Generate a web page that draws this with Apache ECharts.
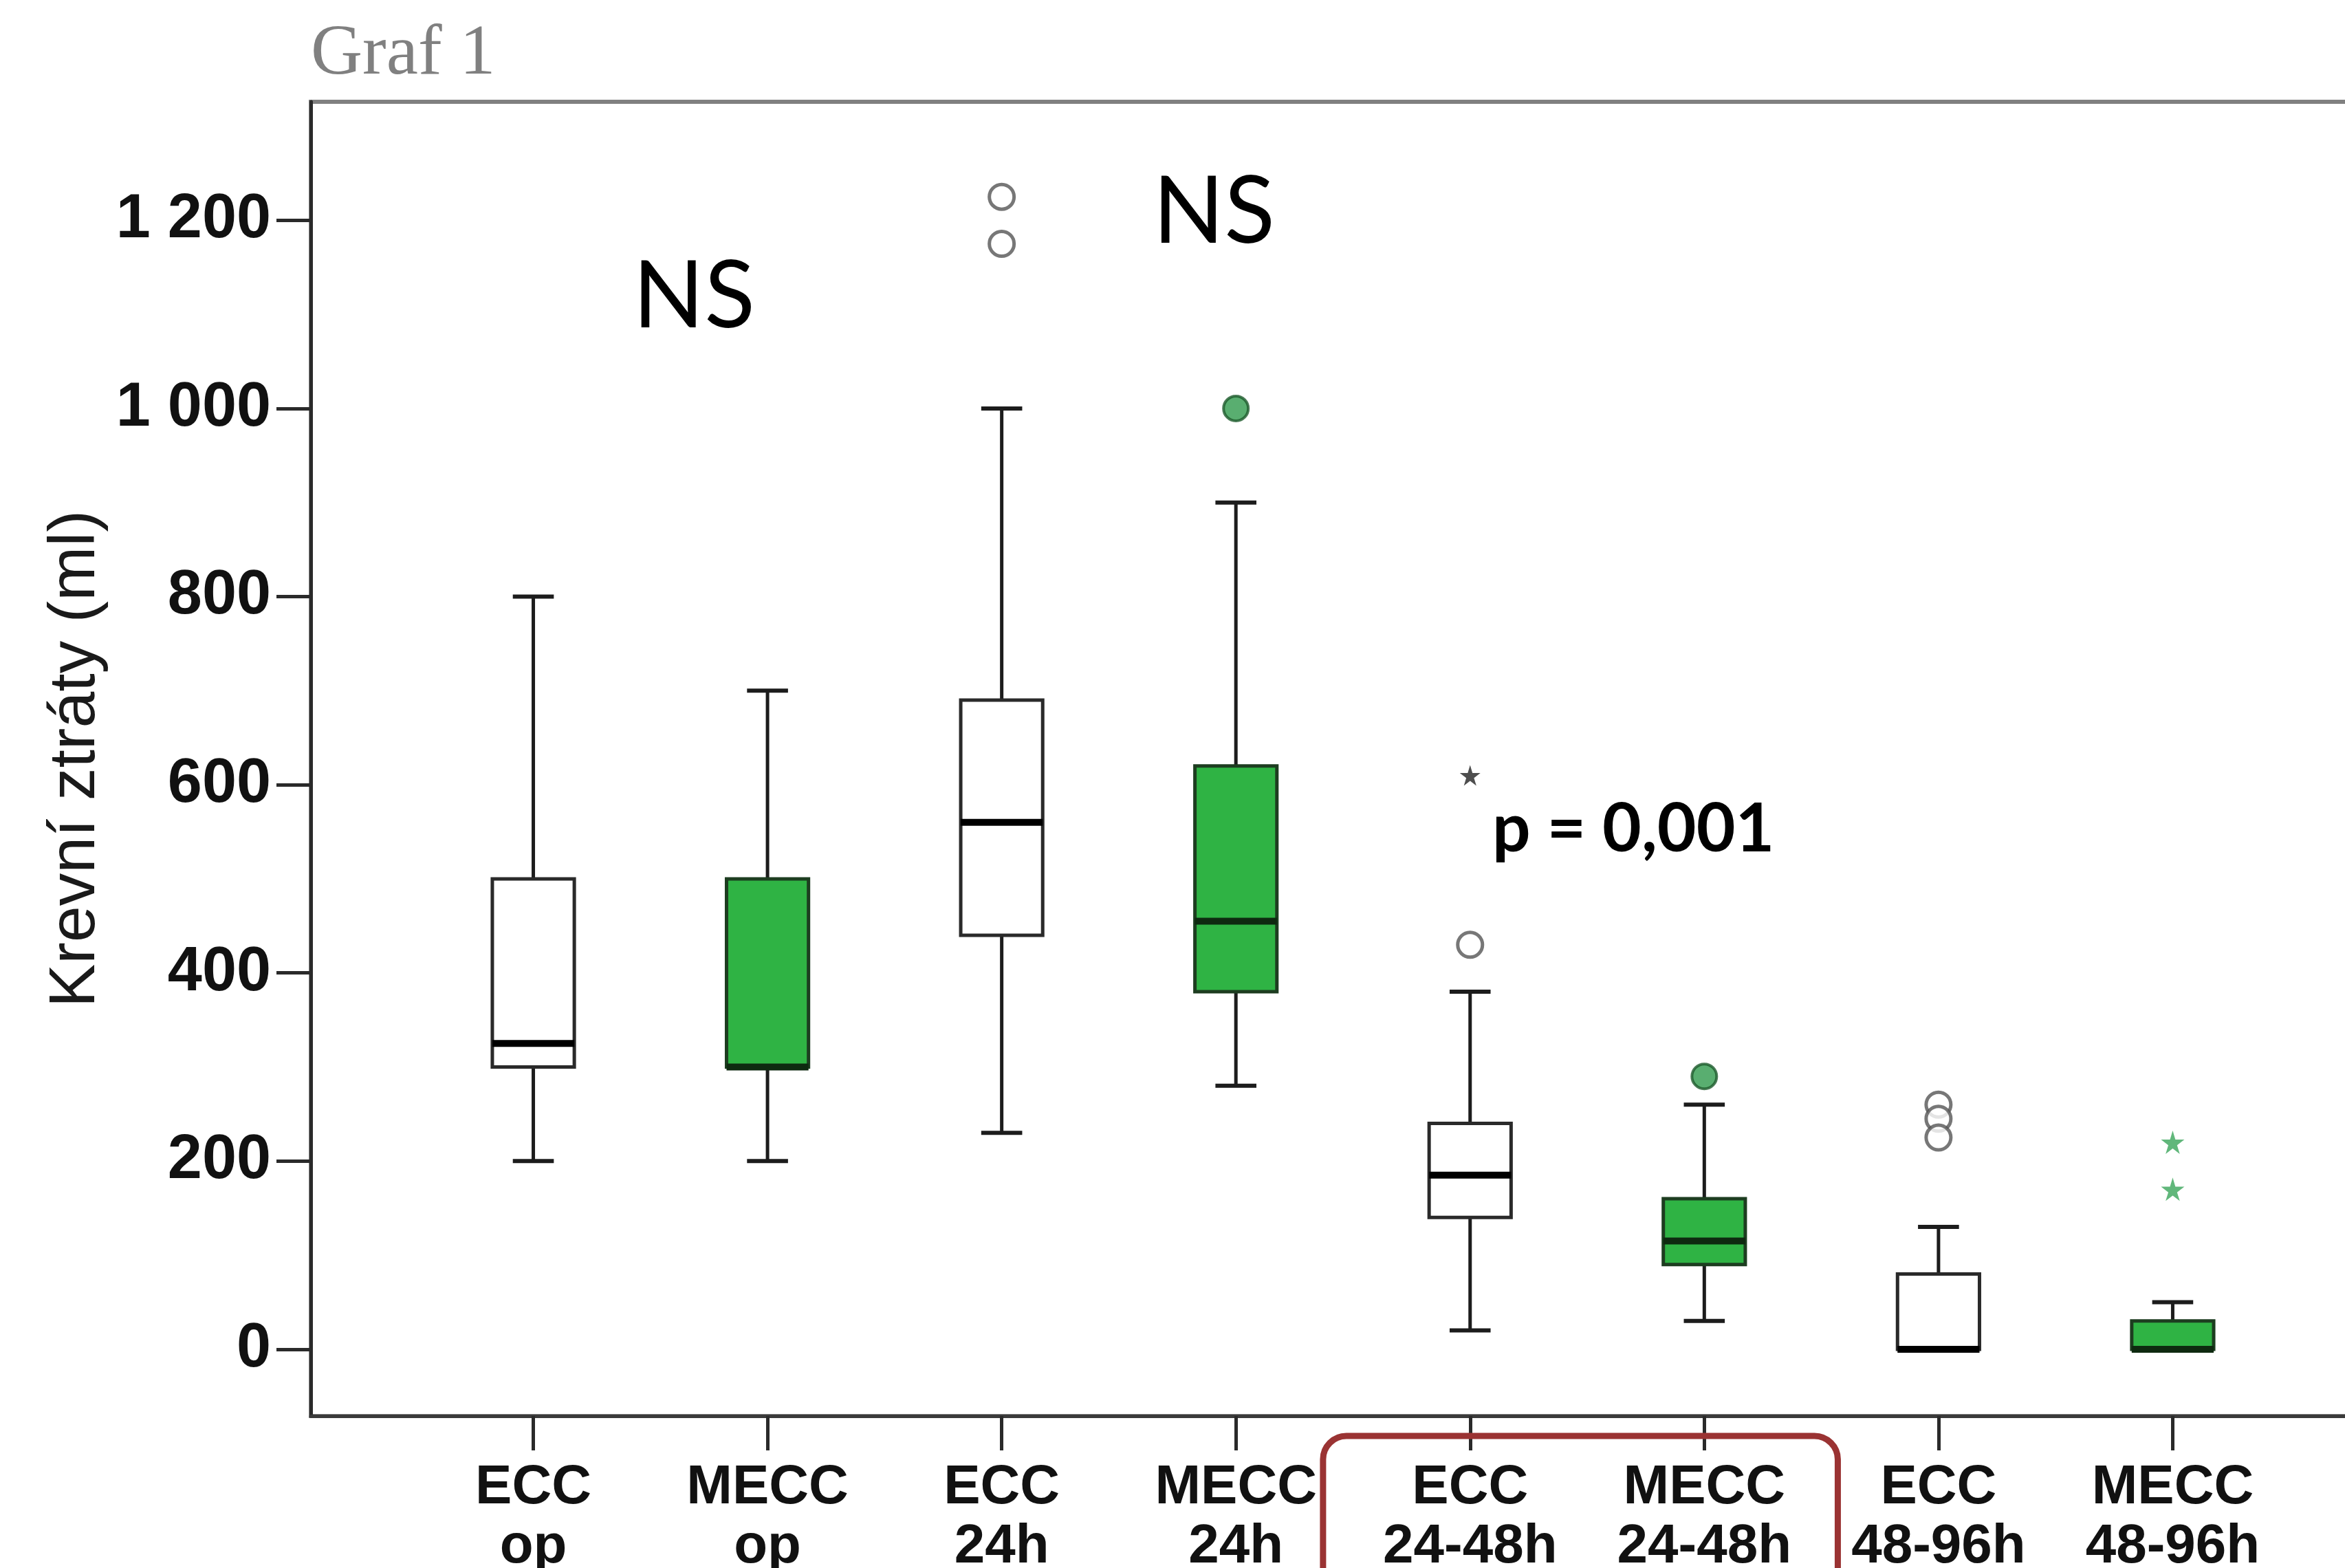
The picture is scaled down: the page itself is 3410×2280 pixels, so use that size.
<!DOCTYPE html>
<html><head><meta charset="utf-8">
<script src="https://cdn.jsdelivr.net/npm/echarts@6/dist/echarts.min.js"></script>
<style>html,body{margin:0;padding:0;background:#fff}#c{width:3410px;height:2280px}</style>
</head><body><div id="c"></div>
<script>
// ---- data ----
const categories = ['ECC\nop','MECC\nop','ECC\n24h','MECC\n24h','ECC\n24-48h','MECC\n24-48h','ECC\n48-96h','MECC\n48-96h'];
const boxMin    = [200, 200, 230, 280, 20, 30, 0, 0];
const boxQ1     = [300, 300, 440, 380, 140, 90, 0, 0];
const boxMedian = [325, 300, 560, 455, 185, 115, 0, 0];
const boxQ3     = [500, 500, 690, 620, 240, 160, 80, 30];
const boxMax    = [800, 700, 1000, 900, 380, 260, 130, 50];
const outlierCirclesECC  = [[3,1225],[3,1175],[5,430],[7,260],[7,245],[7,225]];
const outlierCirclesMECC = [[4,1000],[6,290]];
const extremeStarsECC    = [[5,610]];
const extremeStarsMECC   = [[8,220],[8,170]];
const yTickValues = [0,200,400,600,800,1000,1200];
const xTickValues = [1,2,3,4,5,6,7,8];
const annotations = [['NS',1.686,1118],['NS',3.906,1208],['p = 0,001',5.697,552]];

// ---- styling ----
const BOX_WIDTH = 0.35, CAP_WIDTH = 0.175;
const STAR = 'path://M50,0 L61,35 L98,35 L68,57 L79,91 L50,70 L21,91 L32,57 L2,35 L39,35 Z';
const boxData = categories.map((c,i)=>[i+1, boxMin[i], boxQ1[i], boxMedian[i], boxQ3[i], boxMax[i]]);

function renderBox(params, api){
  const x = api.value(0);
  const pMin = api.coord([x, api.value(1)]);
  const pQ1  = api.coord([x, api.value(2)]);
  const pMd  = api.coord([x, api.value(3)]);
  const pQ3  = api.coord([x, api.value(4)]);
  const pMax = api.coord([x, api.value(5)]);
  const isMECC = categories[params.dataIndex].indexOf('MECC') === 0;
  const halfW = api.size([BOX_WIDTH, 0])[0] / 2;
  const capHalf = api.size([CAP_WIDTH, 0])[0] / 2;
  const cx = pMin[0];
  const stroke = '#1c1c1c';
  return {type:'group', children:[
    {type:'line', shape:{x1:cx,y1:pQ3[1],x2:cx,y2:pMax[1]}, style:{stroke, lineWidth:5}},
    {type:'line', shape:{x1:cx,y1:pQ1[1],x2:cx,y2:pMin[1]}, style:{stroke, lineWidth:5}},
    {type:'line', shape:{x1:cx-capHalf,y1:pMax[1],x2:cx+capHalf,y2:pMax[1]}, style:{stroke, lineWidth:6}},
    {type:'line', shape:{x1:cx-capHalf,y1:pMin[1],x2:cx+capHalf,y2:pMin[1]}, style:{stroke, lineWidth:6}},
    {type:'rect', shape:{x:cx-halfW, y:pQ3[1], width:2*halfW, height:pQ1[1]-pQ3[1]},
      style:{fill: isMECC ? '#2fb344' : '#ffffff', stroke: isMECC ? '#1d3d20' : '#2a2a2a', lineWidth:5}},
    {type:'line', shape:{x1:cx-halfW,y1:pMd[1],x2:cx+halfW,y2:pMd[1]}, style:{stroke: isMECC ? '#0e2a10' : '#000', lineWidth:10}}
  ]};
}

const chart = echarts.init(document.getElementById('c'), null, {renderer:'canvas'});
const option = {
  backgroundColor:'#ffffff',
  animation:false,
  title:{text:'Graf 1', left:452, top:28, padding:0,
    textStyle:{fontFamily:'Liberation Serif', fontSize:104, fontWeight:'normal', color:'#808080'}},
  grid:{left:452, top:148, width:3048, height:1911, containLabel:false, outerBoundsMode:'none',
    show:true, borderColor:'#808080', borderWidth:6, backgroundColor:'transparent'},
  xAxis:{type:'value', min:0.05, max:9.0,
    axisLine:{show:true, onZero:false, lineStyle:{color:'#3a3a3a', width:5}},
    axisTick:{show:true, customValues:xTickValues, length:50, lineStyle:{color:'#2a2a2a', width:5}},
    axisLabel:{show:true, customValues:xTickValues, margin:62, formatter:v=>categories[Math.round(v)-1]||'',
      fontFamily:'Liberation Sans', fontWeight:'bold', fontSize:80, lineHeight:86, color:'#111'},
    splitLine:{show:false}},
  yAxis:{type:'value', min:-71, max:1326,
    name:'Krevní ztráty (ml)', nameLocation:'middle', nameGap:290,
    nameTextStyle:{fontFamily:'Liberation Sans', fontSize:95, color:'#1a1a1a'},
    axisLine:{show:true, lineStyle:{color:'#2a2a2a', width:5}},
    axisTick:{show:true, customValues:yTickValues, length:50, lineStyle:{color:'#2a2a2a', width:5}},
    axisLabel:{show:true, customValues:yTickValues, margin:58,
      formatter:v=>String(v).replace(/\B(?=(\d{3})+(?!\d))/g,' '),
      fontFamily:'Liberation Sans', fontWeight:'bold', fontSize:90, color:'#111'},
    splitLine:{show:false}},
  series:[
    {type:'custom', renderItem:renderBox, data:boxData, encode:{x:0, y:[1,2,3,4,5]}, z:2},
    {type:'scatter', data:outlierCirclesECC, symbol:'circle', symbolSize:36, z:3,
      itemStyle:{color:'#ffffff', borderColor:'#555555', borderWidth:5}},
    {type:'scatter', data:outlierCirclesMECC, symbol:'circle', symbolSize:36, z:3,
      itemStyle:{color:'#2f9a4c', borderColor:'#1d5a2c', borderWidth:4}},
    {type:'scatter', data:extremeStarsECC, symbol:STAR, symbolSize:30, z:3,
      itemStyle:{color:'#222222'}},
    {type:'scatter', data:extremeStarsMECC, symbol:STAR, symbolSize:34, z:3,
      itemStyle:{color:'#3aa55a'}},
    {type:'scatter', data:annotations.map(a=>({value:[a[1],a[2]], name:a[0]})), symbol:'circle', symbolSize:1, z:4,
      itemStyle:{color:'rgba(0,0,0,0)'},
      label:{show:true, position:'inside', formatter:p=>p.name, fontFamily:'Lato', color:'#000',
        textBorderWidth:0, textBorderColor:'transparent', opacity:1}}
  ]
};
option.series[5].data.forEach(d=>{
  d.label = d.name === 'NS'
    ? {fontSize:136, fontWeight:'normal', color:'#000', textBorderWidth:0}
    : {fontSize:98, fontWeight:'bold', color:'#000', textBorderWidth:0};
});
chart.setOption(option);

// red highlight box around the ECC/MECC 24-48h labels
const xl = chart.convertToPixel({xAxisIndex:0}, 4.372);
const xr = chart.convertToPixel({xAxisIndex:0}, 6.57);
const axisY = chart.convertToPixel({yAxisIndex:0}, -71);
chart.setOption({graphic:[{type:'rect', shape:{x:xl, y:axisY+29, width:xr-xl, height:260, r:34},
  style:{fill:'none', stroke:'#9a3333', lineWidth:9}, z:10}]});
</script></body></html>
